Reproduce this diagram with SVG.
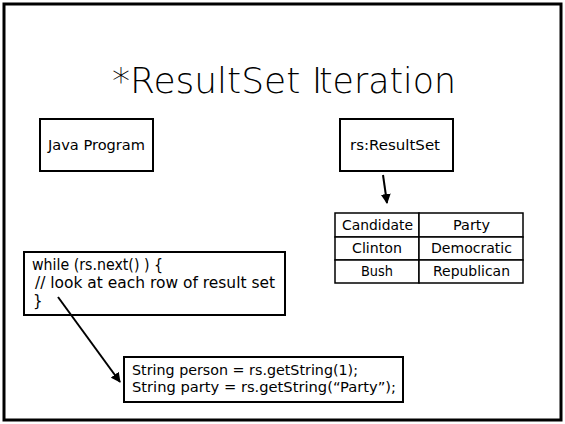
<svg xmlns="http://www.w3.org/2000/svg" width="565" height="424" viewBox="0 0 565 424">
  <style>
    .box { fill: #fff; stroke: #000; stroke-width: 2; }
    .cell { fill: #fff; stroke: #000; stroke-width: 1.5; }
    .lbl { font-family: "DejaVu Sans", "Liberation Sans", sans-serif; font-size: 14px; fill: #000; }
    .code { font-size: 15px; }
    .title { font-family: "DejaVu Sans", "Liberation Sans", sans-serif; font-weight: 200; font-size: 36px; fill: #000; }
    .conn { stroke: #000; stroke-width: 2; fill: none; marker-end: url(#head); }
  </style>
  <defs>
    <marker id="head" viewBox="0 0 10 10" refX="9" refY="5" markerWidth="5" markerHeight="5" orient="auto" markerUnits="strokeWidth">
      <path d="M0,0 L10,5 L0,10 z" fill="#000"/>
    </marker>
  </defs>

  <rect x="0" y="0" width="565" height="424" fill="#fff"/>
  <rect x="4" y="4" width="557" height="416" fill="none" stroke="#000" stroke-width="3"/>

  <text class="title" x="112" y="93">*ResultSet I<tspan x="319" textLength="137" lengthAdjust="spacingAndGlyphs">teration</tspan></text>

  <g id="java-program">
    <rect class="box" x="40" y="119" width="113" height="52"/>
    <text class="lbl" x="48" y="150" textLength="97" lengthAdjust="spacingAndGlyphs">Java Program</text>
  </g>

  <g id="resultset">
    <rect class="box" x="340" y="119" width="113" height="52"/>
    <text class="lbl" x="350" y="150" textLength="90" lengthAdjust="spacingAndGlyphs">rs:ResultSet</text>
  </g>

  <g id="table">
    <rect class="cell" x="335" y="213" width="84" height="24"/>
    <rect class="cell" x="419" y="213" width="104" height="24"/>
    <rect class="cell" x="335" y="237" width="84" height="23"/>
    <rect class="cell" x="419" y="237" width="104" height="23"/>
    <rect class="cell" x="335" y="260" width="84" height="23"/>
    <rect class="cell" x="419" y="260" width="104" height="23"/>
    <text class="lbl" x="342" y="230" textLength="71" lengthAdjust="spacingAndGlyphs">Candidate</text>
    <text class="lbl" x="453" y="230" textLength="37" lengthAdjust="spacingAndGlyphs">Party</text>
    <text class="lbl" x="352" y="253" textLength="50" lengthAdjust="spacingAndGlyphs">Clinton</text>
    <text class="lbl" x="431" y="253" textLength="81" lengthAdjust="spacingAndGlyphs">Democratic</text>
    <text class="lbl" x="361" y="276" textLength="32" lengthAdjust="spacingAndGlyphs">Bush</text>
    <text class="lbl" x="433" y="276" textLength="77" lengthAdjust="spacingAndGlyphs">Republican</text>
  </g>

  <g id="while-loop">
    <rect class="box" x="24" y="252" width="261" height="63"/>
    <text class="lbl code" x="32" y="270" textLength="131" lengthAdjust="spacingAndGlyphs">while (rs.next() ) {</text>
    <text class="lbl code" x="35" y="288" textLength="240" lengthAdjust="spacingAndGlyphs">// look at each row of result set</text>
    <text class="lbl code" x="33" y="306">}</text>
  </g>

  <g id="get-values">
    <rect class="box" x="124" y="357" width="279" height="45"/>
    <text class="lbl" x="132" y="375" textLength="226" lengthAdjust="spacingAndGlyphs">String person = rs.getString(1);</text>
    <text class="lbl" x="132" y="392" textLength="264" lengthAdjust="spacingAndGlyphs">String party = rs.getString(“Party”);</text>
  </g>

  <g id="connectors">
    <line class="conn" x1="383" y1="175" x2="387" y2="203"/>
    <line class="conn" x1="58" y1="297" x2="120" y2="382"/>
  </g>
</svg>
